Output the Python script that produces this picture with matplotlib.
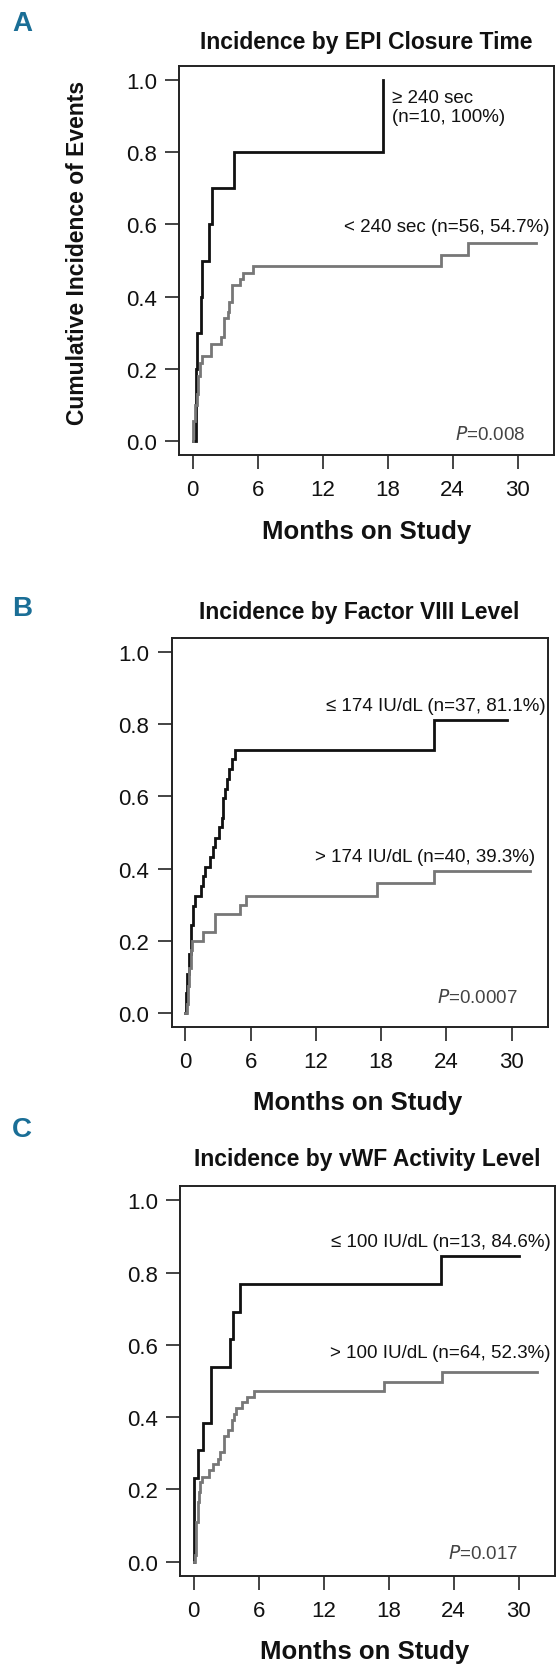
import matplotlib
matplotlib.use("Agg")
import matplotlib.pyplot as plt

# ---------------- data ----------------
titles = ["Incidence by EPI Closure Time",
          "Incidence by Factor VIII Level",
          "Incidence by vWF Activity Level"]
panel_letters = ["A", "B", "C"]
x_ticks = [0, 6, 12, 18, 24, 30]
y_ticks = [0.0, 0.2, 0.4, 0.6, 0.8, 1.0]
y_tick_labels = ["0.0", "0.2", "0.4", "0.6", "0.8", "1.0"]
x_label = "Months on Study"
y_label = "Cumulative Incidence of Events"

# Panel A
a_hi_t = [0, 0.31, 0.34, 0.43, 0.74, 0.86, 1.48, 1.79, 3.82, 17.6]
a_hi_v = [0, 0.10, 0.20, 0.30, 0.40, 0.50, 0.60, 0.70, 0.80, 1.00]
a_lo_t = [0, 0.06, 0.25, 0.37, 0.49, 0.68, 0.86, 1.66, 2.59, 2.84, 3.21, 3.39,
          3.64, 4.32, 4.63, 5.55, 22.95, 25.4, 31.7]
a_lo_v = [0, 0.054, 0.10, 0.13, 0.18, 0.215, 0.234, 0.269, 0.287, 0.34, 0.358,
          0.386, 0.431, 0.449, 0.466, 0.485, 0.516, 0.548, 0.548]
a_hi_label = "\u2265 240 sec\n(n=10, 100%)"
a_lo_label = "< 240 sec (n=56, 54.7%)"
a_p = "0.008"

# Panel B
b_lo_t = [0, 0.055, 0.18, 0.30, 0.485, 0.73, 0.91, 1.47, 1.65, 1.83, 2.26, 2.51,
          2.75, 3.12, 3.37, 3.49, 3.61, 3.79, 3.98, 4.28, 4.59, 22.84, 29.6]
b_lo_v = [0, 0.054, 0.108, 0.162, 0.243, 0.297, 0.324, 0.351, 0.378, 0.405,
          0.432, 0.459, 0.486, 0.514, 0.541, 0.595, 0.622, 0.649, 0.676, 0.703,
          0.730, 0.811, 0.811]
b_hi_t = [0, 0.12, 0.24, 0.36, 0.49, 0.61, 1.65, 2.75, 5.02, 5.57, 17.6, 22.9, 31.7]
b_hi_v = [0, 0.025, 0.075, 0.125, 0.175, 0.200, 0.225, 0.275, 0.300, 0.325,
          0.360, 0.393, 0.393]
b_lo_label = "\u2264 174 IU/dL (n=37, 81.1%)"
b_hi_label = "> 174 IU/dL (n=40, 39.3%)"
b_p = "0.0007"

# Panel C
c_lo_t = [0, 0.04, 0.06, 0.43, 0.86, 1.59, 3.37, 3.62, 4.29, 22.8, 30.05]
c_lo_v = [0, 0.154, 0.231, 0.308, 0.385, 0.538, 0.615, 0.692, 0.769, 0.846, 0.846]
c_hi_t = [0, 0.12, 0.25, 0.37, 0.49, 0.61, 0.74, 1.41, 1.78, 2.21, 2.45, 2.76,
          3.12, 3.49, 3.67, 3.92, 4.47, 4.90, 5.57, 17.6, 22.96, 31.7]
c_hi_v = [0, 0.017, 0.109, 0.165, 0.193, 0.220, 0.235, 0.253, 0.270, 0.284,
          0.303, 0.347, 0.363, 0.393, 0.410, 0.425, 0.441, 0.457, 0.471, 0.498,
          0.524, 0.524]
c_lo_label = "\u2264 100 IU/dL (n=13, 84.6%)"
c_hi_label = "> 100 IU/dL (n=64, 52.3%)"
c_p = "0.017"

# ---------------- figure ----------------
W, H = 556, 1665
DPI = 100
plt.rcParams['font.family'] = ['Liberation Sans', 'DejaVu Sans']
fig = plt.figure(figsize=(W / DPI, H / DPI), dpi=DPI)


def fx(x):
    return x / W


def fy(y):
    return 1 - y / H


BLACK = "#111111"
GRAY = "#777777"
LETTER = "#1a6e96"

panels = [
    dict(box=(179, 554, 67, 456), title_xy=(366, 42), xl_xy=(367, 532),
         letter_y=24,
         curves=[(a_hi_t, a_hi_v, BLACK), (a_lo_t, a_lo_v, GRAY)],
         notes=[(a_hi_label, 392, 108, 'left'), (a_lo_label, 549, 228, 'right')],
         p=(a_p, 525, 435)),
    dict(box=(171.5, 548, 639, 1028), title_xy=(359, 612), xl_xy=(358, 1103),
         letter_y=609,
         curves=[(b_lo_t, b_lo_v, BLACK), (b_hi_t, b_hi_v, GRAY)],
         notes=[(b_lo_label, 546, 707, 'right'), (b_hi_label, 535, 858, 'right')],
         p=(b_p, 518, 998)),
    dict(box=(180, 555, 1187, 1577), title_xy=(367, 1160), xl_xy=(365, 1652),
         letter_y=1130,
         curves=[(c_lo_t, c_lo_v, BLACK), (c_hi_t, c_hi_v, GRAY)],
         notes=[(c_lo_label, 551, 1243, 'right'), (c_hi_label, 551, 1354, 'right')],
         p=(c_p, 518, 1554)),
]

for i, pnl in enumerate(panels):
    l, r, t, b = pnl['box']
    ax = fig.add_axes([fx(l), fy(b), (r - l) / W, (b - t) / H])
    for tt, vv, col in pnl['curves']:
        ax.plot(tt, vv, drawstyle='steps-post', color=col, lw=2.0,
                solid_joinstyle='miter')
    ax.set_xlim(-1.27, 33.35)
    ax.set_ylim(-0.04, 1.04)
    ax.set_xticks(x_ticks)
    ax.set_xticklabels([str(v) for v in x_ticks])
    ax.set_yticks(y_ticks)
    ax.set_yticklabels(y_tick_labels)
    ax.tick_params(axis='both', direction='out', length=10, width=1.1,
                   labelsize=16, colors='#111111')
    ax.tick_params(axis='y', pad=6)
    ax.tick_params(axis='x', pad=7)
    for s in ax.spines.values():
        s.set_linewidth(1.4)
        s.set_color('#222222')

    for txt, x, y, ha in pnl['notes']:
        fig.text(fx(x), fy(y), txt, ha=ha, va='center', fontsize=13.5,
                 color='#111111', linespacing=1.15)
    ptxt, px_, py_ = pnl['p']
    fig.text(fx(px_), fy(py_), r"$\it{P}$" + "=" + ptxt, ha='right', va='center',
             fontsize=13.5, color='#444444')

    tx, ty = pnl['title_xy']
    fig.text(fx(tx), fy(ty), titles[i], ha='center', va='center',
             fontsize=16.5, fontweight='bold', color='#111111')
    xx, xy = pnl['xl_xy']
    fig.text(fx(xx), fy(xy), x_label, ha='center', va='center',
             fontsize=18.5, fontweight='bold', color='#111111')
    fig.text(fx(12), fy(pnl['letter_y']), panel_letters[i], ha='left', va='center',
             fontsize=20, fontweight='bold', color=LETTER,
             family=['Liberation Sans Narrow', 'Liberation Sans', 'DejaVu Sans'])

fig.text(fx(78), fy(253), y_label, rotation=90, ha='center', va='center',
         fontsize=16.5, fontweight='bold', color='#111111')

fig.savefig("out.png", dpi=DPI)
